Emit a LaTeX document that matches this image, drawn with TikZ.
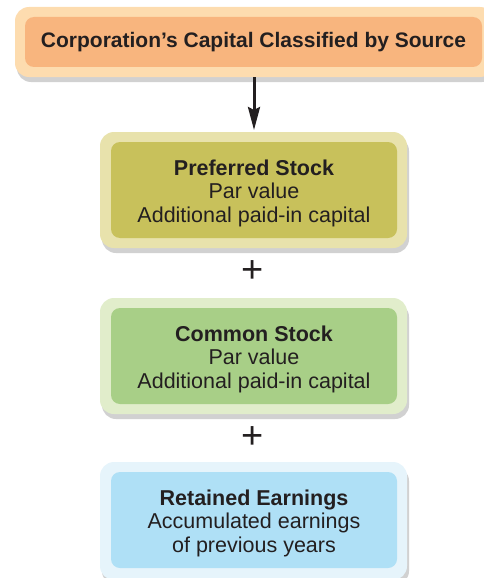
\documentclass[tikz,border=0pt]{standalone}
\usepackage{fontspec}
\setmainfont{Liberation Sans}
\usetikzlibrary{arrows.meta,shadows}
\definecolor{topout}{HTML}{FDDCAF}
\definecolor{topin}{HTML}{F8B57E}
\definecolor{prefout}{HTML}{E8E2AC}
\definecolor{prefin}{HTML}{C8C15B}
\definecolor{comout}{HTML}{E1EDCB}
\definecolor{comin}{HTML}{A8CF87}
\definecolor{retout}{HTML}{E6F4FB}
\definecolor{retin}{HTML}{AFE0F6}
\definecolor{txt}{HTML}{231F20}
\tikzset{
  outerbox/.style={rounded corners=14pt, drop shadow={shadow xshift=2pt,shadow yshift=-5pt,opacity=0.3,fill=black!60}},
  innerbox/.style={rounded corners=9pt, align=center, text=txt, font=\fontsize{21.5}{23.5}\selectfont},
  plus/.style={text=txt, font=\fontsize{38}{38}\selectfont, inner sep=0pt},
}
\begin{document}
\begin{tikzpicture}[x=1pt,y=-1pt]
\useasboundingbox (0,0) rectangle (484,578);
% top
\fill[topout,outerbox] (15,7) rectangle (494,77);
\fill[topin,rounded corners=9pt] (25,17) rectangle (482,67);
\node[innerbox] (top) at (253.5,42.5) {\fontsize{21}{23.5}\selectfont\textbf{Corporation’s Capital Classified by Source}};
% preferred
\fill[prefout,outerbox] (100,132) rectangle (407,248);
\fill[prefin,rounded corners=9pt] (111,142) rectangle (397,238);
\node[innerbox] (pref) at (254,193) {\textbf{Preferred Stock}\\Par value\\Additional paid-in capital};
% common
\fill[comout,outerbox] (100,298) rectangle (407,414);
\fill[comin,rounded corners=9pt] (111,308) rectangle (397,404);
\node[innerbox] (com) at (254,359) {\textbf{Common Stock}\\Par value\\Additional paid-in capital};
% retained
\fill[retout,outerbox] (100,462) rectangle (407,580);
\fill[retin,rounded corners=9pt] (111,472) rectangle (397,568);
\node[innerbox] (ret) at (254,523) {\textbf{Retained Earnings}\\Accumulated earnings\\of previous years};
% plus signs
\node[plus] (p1) at (252.5,272) {+};
\node[plus] (p2) at (252.5,438) {+};
% arrow
\coordinate (a1) at (254,77);
\coordinate (a2) at (254,130);
\draw[txt,line width=3pt,-{Stealth[length=23pt,width=12pt,inset=3pt]}] (a1) -- (a2);
\end{tikzpicture}
\end{document}
